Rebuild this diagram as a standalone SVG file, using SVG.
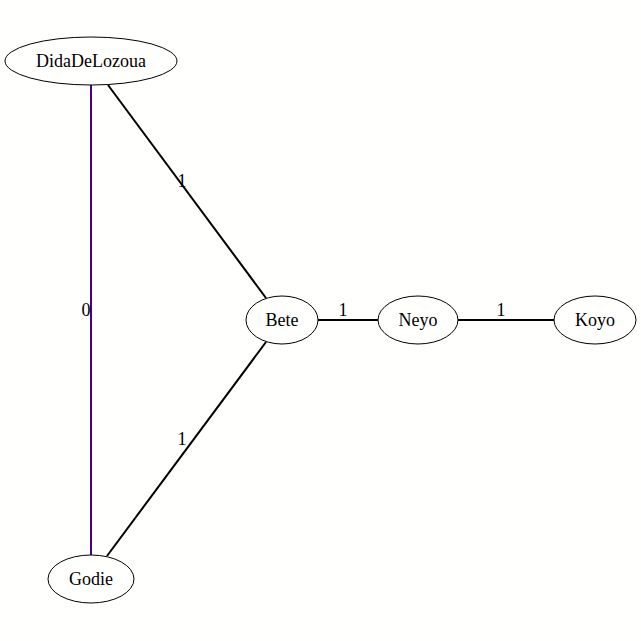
<svg xmlns="http://www.w3.org/2000/svg" width="641" height="641" viewBox="0 0 641 641">
<style>
.n ellipse{fill:none;stroke:#000;stroke-width:1}
text{font-family:"Liberation Serif","Times New Roman",serif;font-size:18px;fill:#000}
.n text{text-anchor:middle}
.e{stroke:#000;stroke-width:2;fill:none}
.l{text-anchor:middle}
</style>
<rect width="641" height="641" fill="#fffffe"/>
<g id="edges">
<line class="e" x1="91" y1="85" x2="91" y2="555" style="stroke:#4b0082"/>
<text class="l" x="86" y="316">0</text>
<line class="e" x1="108" y1="85" x2="266" y2="298"/>
<text class="l" x="182" y="187">1</text>
<line class="e" x1="266" y1="342" x2="107" y2="556"/>
<text class="l" x="182" y="445">1</text>
<line class="e" x1="318" y1="320" x2="378" y2="320"/>
<text class="l" x="343" y="316">1</text>
<line class="e" x1="458" y1="320" x2="554" y2="320"/>
<text class="l" x="501" y="316">1</text>
</g>
<g id="DidaDeLozoua" class="n"><ellipse cx="91" cy="61" rx="86" ry="24"/><text x="91" y="67">DidaDeLozoua</text></g>
<g id="Bete" class="n"><ellipse cx="282" cy="320" rx="36" ry="24"/><text x="282" y="326">Bete</text></g>
<g id="Neyo" class="n"><ellipse cx="418" cy="320" rx="40" ry="24"/><text x="418" y="326">Neyo</text></g>
<g id="Koyo" class="n"><ellipse cx="595" cy="320" rx="41" ry="24"/><text x="595" y="326">Koyo</text></g>
<g id="Godie" class="n"><ellipse cx="91" cy="579" rx="43" ry="24"/><text x="91" y="585">Godie</text></g>
</svg>
